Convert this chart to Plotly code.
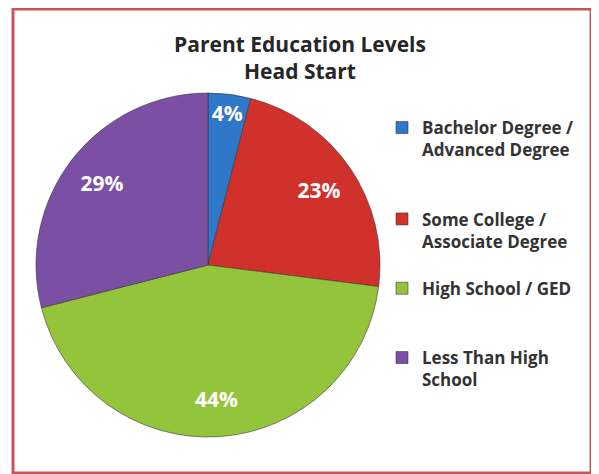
import plotly.graph_objects as go

categories = ["Bachelor Degree /<br>Advanced Degree",
              "Some College /<br>Associate Degree",
              "High School / GED",
              "Less Than High<br>School"]
values = [4, 23, 44, 29]
colors = ["#2F77C8", "#D0312A", "#94C43C", "#7B4FA3"]

# extra blank lines only to space out the legend entries like the original
legend_pad = ["<br>\u00a0<br>\u00a0", "<br>\u00a0", "<br>\u00a0<br>\u00a0", ""]
display_labels = [c + p for c, p in zip(categories, legend_pad)]

W, H = 599, 474
OX, OY = 8, 8  # page body offset


def fx(px):
    return (px - OX) / W


def fy(py):
    return 1 - (py - OY) / H


pie_domain = dict(x=[fx(36), fx(380)], y=[fy(437), fy(93)])

fig = go.Figure()

# the coloured pie
fig.add_trace(go.Pie(
    labels=display_labels,
    values=values,
    sort=False,
    direction="clockwise",
    rotation=0,
    marker=dict(colors=colors, line=dict(color="rgba(50,50,50,0.55)", width=1)),
    textinfo="none",
    domain=pie_domain,
    hoverinfo="percent",
))

# transparent ring over it that carries the percentage labels further out
fig.add_trace(go.Pie(
    labels=display_labels,
    values=values,
    sort=False,
    direction="clockwise",
    rotation=0,
    hole=0.56,
    marker=dict(colors=["rgba(0,0,0,0)"] * len(values), line=dict(width=0)),
    texttemplate="%{percent:.0%}",
    textposition="inside",
    insidetextorientation="horizontal",
    textfont=dict(family="Open Sans", size=21, color="white", weight="bold"),
    domain=pie_domain,
    showlegend=False,
    hoverinfo="skip",
))

fig.update_layout(
    width=W, height=H,
    margin=dict(l=0, r=0, t=0, b=0),
    paper_bgcolor="white",
    plot_bgcolor="white",
    title=dict(
        text="Parent Education Levels<br>Head Start",
        x=fx(300), xanchor="center",
        y=fy(52), yanchor="top",
        font=dict(family="Open Sans", size=21, color="#262626", weight="bold"),
    ),
    uniformtext=dict(minsize=21, mode="show"),
    legend=dict(
        x=fx(382), xanchor="left",
        y=fy(110), yanchor="top",
        font=dict(family="Open Sans", size=17, color="#333333", weight="bold"),
        valign="top",
        itemwidth=30,
        tracegroupgap=0,
        bgcolor="rgba(0,0,0,0)",
    ),
    shapes=[dict(
        type="rect", xref="paper", yref="paper",
        x0=fx(13), x1=fx(591), y0=fy(473), y1=fy(9),
        line=dict(color="#C9545A", width=3),
        fillcolor="rgba(0,0,0,0)",
    )],
)

fig.write_html("out.html")
